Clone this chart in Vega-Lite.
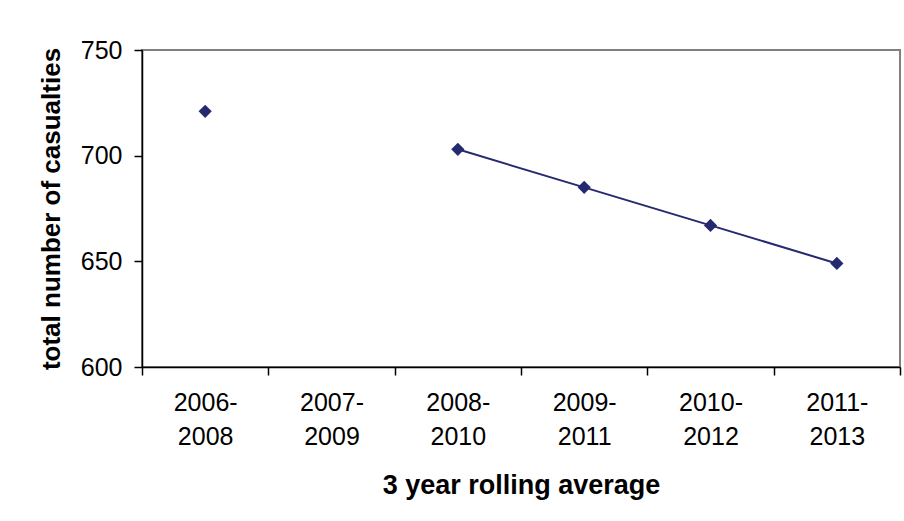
{
  "$schema": "https://vega.github.io/schema/vega-lite/v6.json",
  "width": 758,
  "height": 317,
  "autosize": {"type": "none"},
  "padding": {"left": 142, "top": 50, "right": 4, "bottom": 154},
  "background": "white",
  "config": {
    "font": "Liberation Sans",
    "view": {"stroke": "#808080", "strokeWidth": 2}
  },
  "data": {
    "values": [
      {"period": "2006-2008", "casualties": 721},
      {"period": "2007-2009", "casualties": null},
      {"period": "2008-2010", "casualties": 703},
      {"period": "2009-2011", "casualties": 685},
      {"period": "2010-2012", "casualties": 667},
      {"period": "2011-2013", "casualties": 649}
    ]
  },
  "encoding": {
    "x": {
      "field": "period",
      "type": "ordinal",
      "scale": {"type": "band", "paddingInner": 0, "paddingOuter": 0, "domain": ["2006-2008", "2007-2009", "2008-2010", "2009-2011", "2010-2012", "2011-2013"]},
      "axis": {
        "title": "3 year rolling average",
        "titleFont": "Liberation Sans",
        "titleFontSize": 27,
        "titleFontWeight": "bold",
        "titleColor": "#000000",
        "titlePadding": 23,
        "labelFont": "Liberation Sans",
        "labelFontSize": 25,
        "labelColor": "#000000",
        "labelAngle": 0,
        "labelBaseline": "top",
        "labelLineHeight": 34,
        "labelPadding": 15,
        "labelExpr": "[slice(datum.label, 0, 5), slice(datum.label, 5)]",
        "tickBand": "extent",
        "tickSize": 8,
        "tickColor": "#000000",
        "tickWidth": 1.5,
        "domainColor": "#000000",
        "domainWidth": 1.5,
        "grid": false
      }
    },
    "y": {
      "field": "casualties",
      "type": "quantitative",
      "scale": {"domain": [600, 750], "nice": false, "zero": false},
      "axis": {
        "title": "total number of casualties",
        "titleFont": "Liberation Sans",
        "titleFontSize": 26,
        "titleFontWeight": "bold",
        "titleColor": "#000000",
        "titlePadding": 16,
        "labelFont": "Liberation Sans",
        "labelFontSize": 25,
        "labelColor": "#000000",
        "labelPadding": 12,
        "values": [600, 650, 700, 750],
        "tickSize": 8,
        "tickColor": "#000000",
        "tickWidth": 1.5,
        "domainColor": "#000000",
        "domainWidth": 1.5,
        "grid": false
      }
    }
  },
  "layer": [
    {
      "mark": {"type": "line", "color": "#252a70", "strokeWidth": 2, "invalid": "break-paths-filter-domains"}
    },
    {
      "mark": {"type": "point", "shape": "diamond", "filled": true, "size": 175, "color": "#252a70", "opacity": 1}
    }
  ]
}
